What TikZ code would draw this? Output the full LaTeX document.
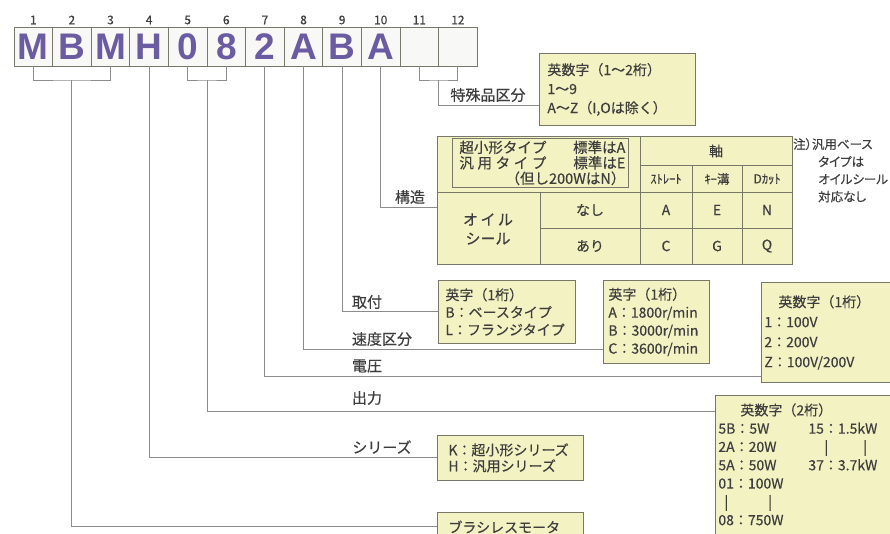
\documentclass[tikz,border=0pt]{standalone}
\usepackage{fontspec}
\setmainfont{Noto Sans CJK JP}[FakeBold=0.4]
\newfontfamily\codefont{Liberation Sans}
\newfontfamily\notefont{Noto Sans CJK JP}[RawFeature=+palt, FakeBold=0.4]
\usepackage{xcolor}
\usepackage{tikz}
\definecolor{boxyellow}{HTML}{F3F2C2}
\definecolor{edgegray}{HTML}{77776A}
\definecolor{wiregray}{HTML}{8C8C8C}
\definecolor{inkgray}{HTML}{3E3E3E}
\definecolor{codepurple}{HTML}{6A5BA3}
\definecolor{cellwhite}{HTML}{F8F8F6}

\begin{document}
\begin{tikzpicture}[x=1pt, y=-1pt, codebox/.style={rectangle, draw=edgegray, fill=cellwhite, line width=0.9pt, minimum width=38.6pt, minimum height=39pt, inner sep=0pt, text=codepurple, font=\codefont\bfseries\fontsize{37}{37}\selectfont}, posnum/.style={text=inkgray, inner sep=0pt, font=\fontsize{12}{12}\selectfont}, infobox/.style={rectangle, draw=edgegray, fill=boxyellow, line width=0.8pt, anchor=north west, align=left, text=inkgray, font=\fontsize{14}{18}\selectfont}, itemlabel/.style={text=inkgray, inner sep=0pt, font=\fontsize{15}{15}\selectfont}, wire/.style={draw=wiregray, line width=0.9pt}, tablerule/.style={draw=edgegray, line width=0.8pt}, celltext/.style={text=inkgray, inner sep=0pt, font=\fontsize{14}{14}\selectfont}]
\useasboundingbox (0,0) rectangle (890,534);
%code boxes
\node[codebox] at (33.3, 46.5) (d1) {M};
\node[posnum] at (33.3, 20) (n1) {1};
\node[codebox] at (71.9, 46.5) (d2) {B};
\node[posnum] at (71.9, 20) (n2) {2};
\node[codebox] at (110.5, 46.5) (d3) {M};
\node[posnum] at (110.5, 20) (n3) {3};
\node[codebox] at (149.1, 46.5) (d4) {H};
\node[posnum] at (149.1, 20) (n4) {4};
\node[codebox] at (187.7, 46.5) (d5) {0};
\node[posnum] at (187.7, 20) (n5) {5};
\node[codebox] at (226.3, 46.5) (d6) {8};
\node[posnum] at (226.3, 20) (n6) {6};
\node[codebox] at (264.9, 46.5) (d7) {2};
\node[posnum] at (264.9, 20) (n7) {7};
\node[codebox] at (303.5, 46.5) (d8) {A};
\node[posnum] at (303.5, 20) (n8) {8};
\node[codebox] at (342.1, 46.5) (d9) {B};
\node[posnum] at (342.1, 20) (n9) {9};
\node[codebox] at (380.7, 46.5) (d10) {A};
\node[posnum] at (380.7, 20) (n10) {10};
\node[codebox] at (419.3, 46.5) (d11) {};
\node[posnum] at (419.3, 20) (n11) {11};
\node[codebox] at (457.9, 46.5) (d12) {};
\node[posnum] at (457.9, 20) (n12) {12};
%item labels
\node[itemlabel] at (488, 95) (lspecial) {特殊品区分};
\node[itemlabel] at (410, 197) (lstruct) {構造};
\node[itemlabel] at (367, 302) (lmount) {取付};
\node[itemlabel] at (382, 339) (lspeed) {速度区分};
\node[itemlabel] at (367, 366) (lvolt) {電圧};
\node[itemlabel] at (367, 398) (lout) {出力};
\node[itemlabel] at (382, 447) (lseries) {シリーズ};
%value boxes
\node[infobox, minimum height=72pt, inner xsep=8pt, text width=140pt, font=\fontsize{14}{19}\selectfont] at (539, 53) (special) {英数字（1～2桁）\\1～9\\A～Z（I,Oは除く）};
\node[infobox, minimum height=63pt, inner xsep=7pt, text width=123pt, font=\fontsize{14}{17.5}\selectfont] at (438, 280) (mount) {英字（1桁）\\B：ベースタイプ\\L：フランジタイプ};
\node[infobox, minimum height=83pt, inner xsep=5pt, text width=96pt] at (603, 280) (speed) {英字（1桁）\\A：1800r/min\\B：3000r/min\\C：3600r/min};
\node[infobox, minimum height=100pt, inner xsep=3pt, text width=128pt, font=\fontsize{14}{20}\selectfont] at (761, 282) (volt) {\hspace*{14pt}英数字（1桁）\\1：100V\\2：200V\\Z：100V/200V};
\node[infobox, minimum height=156pt, inner xsep=3pt, text width=174pt, font=\fontsize{14}{18.3}\selectfont] at (715, 395) (output) {\hspace*{22pt}英数字（2桁）\\\makebox[90pt][l]{5B：5W}15：1.5kW\\\makebox[90pt][l]{2A：20W}\hspace*{16pt}|\hspace*{35pt}|\\\makebox[90pt][l]{5A：50W}37：3.7kW\\01：100W\\\hspace*{6pt}|\hspace*{40pt}|\\08：750W\\\mbox{}};
\node[infobox, minimum height=45pt, inner xsep=11pt, text width=124pt, font=\fontsize{14}{16}\selectfont] at (437, 435) (series) {K：超小形シリーズ\\H：汎用シリーズ};
\node[infobox, minimum height=29pt, inner xsep=11pt, text width=124pt] at (437, 512) (motor) {ブラシレスモータ};
%structure table
\node[infobox, minimum width=355pt, minimum height=128pt, inner sep=0pt] at (437, 136) (tbl) {};
\draw[tablerule] (437, 192) -- (792, 192);
\draw[tablerule] (640, 136) -- (640, 264);
\draw[tablerule] (640, 165) -- (792, 165);
\draw[tablerule] (692, 165) -- (692, 264);
\draw[tablerule] (742, 165) -- (742, 264);
\draw[tablerule] (540, 192) -- (540, 264);
\draw[tablerule] (540, 228) -- (792, 228);
\node[infobox, align=right, inner xsep=3pt, inner ysep=0pt, text width=170pt, minimum height=49pt, font=\fontsize{14.5}{15.5}\selectfont] at (452, 138) (kind) {\makebox[166pt][s]{超小形タイプ\hfill 標準はA}\\\makebox[166pt][s]{\makebox[87pt][s]{汎\hfill 用\hfill タ\hfill イ\hfill プ}\hfill 標準はE}\\（但し200WはN）};
\node[celltext] at (716, 151) (shaft) {軸};
\node[celltext, font=\fontsize{12.5}{12.5}\selectfont] at (666, 179) (straight) {ｽﾄﾚｰﾄ};
\node[celltext, font=\fontsize{12.5}{12.5}\selectfont] at (717, 179) (keyway) {ｷｰ溝};
\node[celltext, font=\fontsize{12.5}{12.5}\selectfont] at (767, 179) (dcut) {Dｶｯﾄ};
\node[celltext, align=center, font=\fontsize{15}{19}\selectfont] at (488, 229) (seal) {オ\,イ\,ル\\シール};
\node[celltext] at (590, 210) (noseal) {なし};
\node[celltext] at (590, 246) (withseal) {あり};
\node[celltext] at (666, 210) (cA) {A};
\node[celltext] at (717, 210) (cE) {E};
\node[celltext] at (767, 210) (cN) {N};
\node[celltext] at (666, 246) (cC) {C};
\node[celltext] at (717, 246) (cG) {G};
\node[celltext] at (767, 246) (cQ) {Q};
\node[anchor=north west, align=left, text=inkgray, inner sep=0pt, font=\notefont\fontsize{12.5}{17.5}\selectfont] at (793, 138) (note) {注）汎用ベース\\\hspace*{2em}タイプは\\\hspace*{2em}オイルシール\\\hspace*{2em}対応なし};
%connectors
\coordinate (k13) at (71.9, 80);
\coordinate (k56) at (207, 80);
\coordinate (k1112) at (438.6, 80);
\coordinate (spin) at (539, 105);
\coordinate (tblin) at (437, 207);
\coordinate (speedin) at (603, 349);
\coordinate (voltin) at (761, 376);
\coordinate (outin) at (715, 411);
\draw[wire] (d1.south) |- (k13) -| (d3.south);
\draw[wire] (k13) |- (motor.west);
\draw[wire] (d4.south) |- (series.west);
\draw[wire] (d5.south) |- (k56) -| (d6.south);
\draw[wire] (k56) |- (outin);
\draw[wire] (d7.south) |- (voltin);
\draw[wire] (d8.south) |- (speedin);
\draw[wire] (d9.south) |- (mount.west);
\draw[wire] (d10.south) |- (tblin);
\draw[wire] (d11.south) |- (k1112) -| (d12.south);
\draw[wire] (k1112) |- (spin);
\end{tikzpicture}
\end{document}
